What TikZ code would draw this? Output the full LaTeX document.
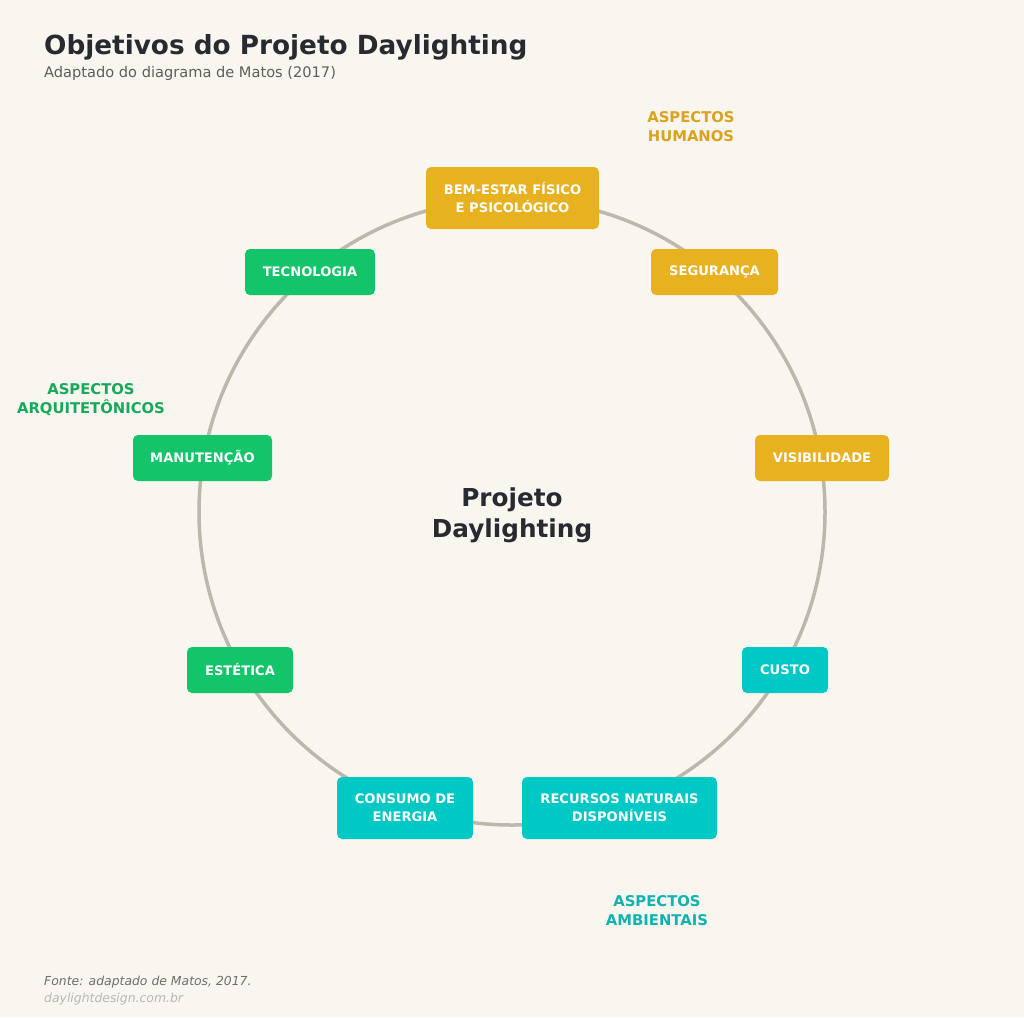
\documentclass[tikz,border=0pt]{standalone}
\usepackage{fontspec}
\setmainfont{DejaVu Sans}
\definecolor{bgc}{HTML}{F9F6EF}
\definecolor{ringc}{HTML}{BDB8AC}
\definecolor{goldc}{HTML}{E8B120}
\definecolor{greenc}{HTML}{13C46A}
\definecolor{tealc}{HTML}{00C8C4}
\definecolor{goldlab}{HTML}{DCA21E}
\definecolor{greenlab}{HTML}{16A95C}
\definecolor{teallab}{HTML}{0FB3B0}
\definecolor{darkc}{HTML}{272A30}
\definecolor{subc}{HTML}{5E5E5E}
\begin{document}
\begin{tikzpicture}[x=1pt,y=-1pt,
  box/.style={rounded corners=5pt, inner sep=0pt, align=center, text=white,
    font=\fontsize{13.1}{18}\selectfont\bfseries},
  goldbox/.style={box, fill=goldc},
  greenbox/.style={box, fill=greenc},
  tealbox/.style={box, fill=tealc},
  aspect/.style={align=center, font=\fontsize{14.8}{19}\selectfont\bfseries}
]
\fill[bgc] (0,0) rectangle (1024,1017);
\useasboundingbox (0,0) rectangle (1024,1017);

\node[anchor=base west, text=darkc, inner sep=0pt, font=\fontsize{26.3}{30}\selectfont\bfseries] (title) at (44,54) {Objetivos do Projeto Daylighting};
\node[anchor=base west, text=subc, inner sep=0pt, font=\fontsize{14.6}{17}\selectfont] (subtitle) at (44,77) {Adaptado do diagrama de Matos (2017)};

\coordinate (c) at (512,512);
\draw[ringc, line width=3.5pt] (c) circle (313);

\node[align=center, text=darkc, font=\fontsize{24.7}{31}\selectfont\bfseries] (center) at (512,515) {Projeto\\Daylighting};

\node[goldbox, minimum width=173, minimum height=62] (bem) at (512.5,198) {BEM-ESTAR FÍSICO\\E PSICOLÓGICO};
\node[goldbox, minimum width=127, minimum height=46] (seg) at (714.5,272) {SEGURANÇA};
\node[goldbox, minimum width=134, minimum height=46] (vis) at (822,458) {VISIBILIDADE};
\node[tealbox, minimum width=86, minimum height=46] (custo) at (785,670) {CUSTO};
\node[tealbox, minimum width=195, minimum height=62] (rec) at (619.5,808) {RECURSOS NATURAIS\\DISPONÍVEIS};
\node[tealbox, minimum width=136, minimum height=62] (cons) at (405,808) {CONSUMO DE\\ENERGIA};
\node[greenbox, minimum width=106, minimum height=46] (est) at (240,670) {ESTÉTICA};
\node[greenbox, minimum width=139, minimum height=46] (man) at (202.5,458) {MANUTENÇÃO};
\node[greenbox, minimum width=130, minimum height=46] (tec) at (310,272) {TECNOLOGIA};

\node[aspect, text=goldlab] (hum) at (691,127) {ASPECTOS\\HUMANOS};
\node[aspect, text=greenlab] (arq) at (91,400) {ASPECTOS\\ARQUITETÔNICOS};
\node[aspect, text=teallab] (amb) at (657,911) {ASPECTOS\\AMBIENTAIS};

\node[anchor=base west, inner sep=0pt, text=subc!90, font=\fontsize{12.4}{14}\selectfont\itshape] (fonte) at (44,985) {Fonte: adaptado de Matos, 2017.};
\node[anchor=base west, inner sep=0pt, text=black!28, font=\fontsize{12.4}{14}\selectfont\itshape] (site) at (44,1002) {daylightdesign.com.br};
\end{tikzpicture}
\end{document}
